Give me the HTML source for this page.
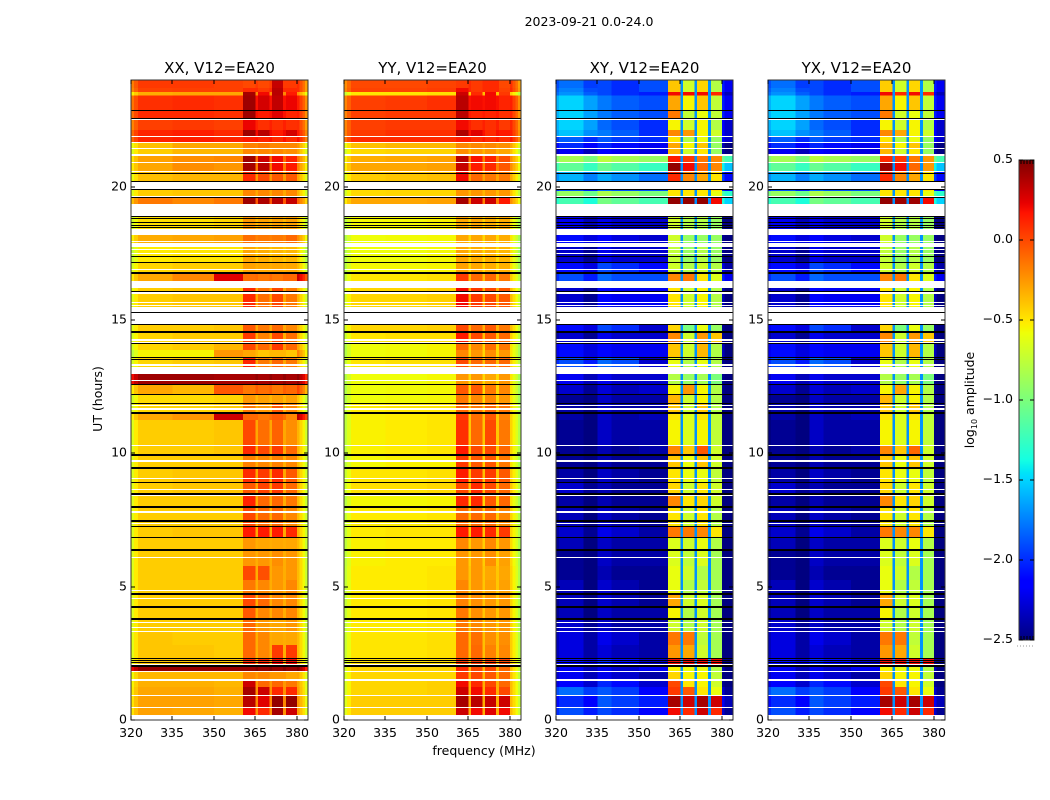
<!DOCTYPE html>
<html lang="en">
<head>
<meta charset="utf-8">
<title>2023-09-21 0.0-24.0</title>
<style>
html,body{margin:0;padding:0;background:#fff;}
svg{display:block;}
text{font-family:"DejaVu Sans","Liberation Sans",sans-serif;fill:#000;}
.tick{font-size:12.5px;}
.title{font-size:15px;}
.lab{font-size:12.5px;}
</style>
</head>
<body>
<svg id="chart" xmlns="http://www.w3.org/2000/svg" width="1050" height="800" viewBox="0 0 1050 800">
  <rect x="0" y="0" width="1050" height="800" fill="#fff"/>
  <text x="589" y="26" text-anchor="middle" class="lab">2023-09-21 0.0-24.0</text>
  <text x="484" y="755" text-anchor="middle" class="lab">frequency (MHz)</text>
  <text transform="translate(102,399) rotate(-90)" text-anchor="middle" class="lab">UT (hours)</text>
  <text transform="translate(974,400) rotate(-90)" text-anchor="middle" class="lab">log<tspan font-size="8" dy="3">10</tspan><tspan dy="-3"> amplitude</tspan></text>
</svg>
<script>
// ---- axis data ----
const freqTicks = [320, 335, 350, 365, 380];
const hourTicks = [0, 5, 10, 15, 20];
const colorTicks = [-2.5, -2.0, -1.5, -1.0, -0.5, 0.0, 0.5];
const colorTickLabels = ['\u22122.5', '\u22122.0', '\u22121.5', '\u22121.0', '\u22120.5', '0.0', '0.5'];
const panelNames = ['XX', 'YY', 'XY', 'YX'];
const panelTitles = ['XX, V12=EA20', 'YY, V12=EA20', 'XY, V12=EA20', 'YX, V12=EA20'];

// ---- time rows (UT hours, top to bottom) ----
const rowEdges = [24.00,23.70,23.55,23.42,22.88,22.50,22.13,21.86,21.64,21.41,21.15,20.89,20.55,20.18,19.84,19.61,19.35,18.90,18.41,18.19,17.74,17.18,16.76,16.46,16.20,15.49,14.85,14.55,14.14,13.88,13.61,13.24,12.98,12.60,12.23,11.89,11.51,11.25,10.31,9.94,9.45,8.93,8.48,7.99,7.28,6.86,6.38,5.78,5.25,4.73,4.24,3.79,3.30,2.81,2.33,2.06,1.80,1.50,1.24,0.90,0.49,0];

// ---- frequency bands (MHz) ----
const bandEdges = [320,321,322.5,330,335,340,350,360.5,365,366,370,371,375,376,380,381,382,383,384];
// column in a row: 0 low, 1 mid, 2 high background, 3-6 the four sub-bands; -1 = fixed level
const bandSource = [0,0,0,0,1,1,2,3,-1,4,-1,5,-1,6,2,2,2,2];
const parallelOffset = [-0.22,-0.1,0,0,0,0,0,0,-0.33,0,-0.33,0,-0.33,0,0.06,-0.05,-0.15,-0.3];
const crossOffset = [-0.1,0,0,-0.15,0.08,0,0,0,-1.7,0,-1.7,0,-1.7,0,-0.15,-0.3,-0.3,-0.3];

// ---- log10 amplitude per row: [low, mid, high background, sub-band 1..4] ----
const xxLevels = [
[.05,.05,.03,0,0,.32,.05],[.02,.03,.03,.1,.05,.35,.1],[-.32,-.3,-.3,.4,.2,.35,.15],[.08,.1,.08,.42,.28,.33,.22],[.1,.1,.08,.42,.15,.25,.12],
[.03,.05,.03,.22,.08,.08,.08],[.12,.14,.1,.42,.35,.15,.28],[.12,.14,.12,.15,.12,.1,.1],[-.38,-.3,-.3,-.18,-.15,-.2,-.2],[-.42,-.35,-.35,-.2,-.2,-.2,-.22],
[-.28,-.22,-.2,.42,.3,.2,.12],[-.3,-.22,-.25,.4,.35,.2,.15],[-.38,-.35,-.35,.1,0,-.05,-.05],[-.42,-.4,-.4,-.2,-.2,-.2,-.2],[-.42,-.4,-.4,-.2,-.2,-.2,-.2],
[-.15,-.2,-.15,.42,.38,.35,.32],[-.4,-.4,-.4,-.2,-.2,-.2,-.2],[-.48,-.48,-.45,-.25,-.28,-.28,-.28],[-.48,-.48,-.45,-.25,-.28,-.28,-.28],[-.32,-.3,-.28,-.12,-.15,-.15,-.1],
[-.52,-.5,-.5,-.3,-.32,-.35,-.35],[-.45,-.42,-.42,-.28,-.3,-.3,-.3],[-.3,-.2,.25,-.12,-.15,-.15,-.1],[-.4,-.4,-.4,-.2,-.2,-.2,-.2],[-.42,-.4,-.4,.1,-.12,0,-.15],
[-.42,-.4,-.4,-.1,-.15,-.1,-.2],[-.42,-.42,-.4,-.05,-.15,-.1,-.2],[-.45,-.42,-.42,.05,-.18,0,-.12],[-.45,-.42,-.35,0,-.1,.05,-.1],[-.55,-.55,-.25,-.3,-.4,-.35,-.4],
[-.45,-.42,-.4,.12,-.15,-.1,-.15],[-.4,-.4,-.4,0,0,0,0],[.42,.42,.4,.4,.4,.4,.4],[-.3,-.35,-.05,-.15,-.12,-.15,-.1],[-.47,-.47,-.45,-.25,-.28,-.28,-.28],
[-.45,-.45,-.42,-.15,-.25,-.05,-.2],[-.3,-.25,.3,-.1,-.15,-.05,-.2],[-.42,-.42,-.4,0,-.12,-.08,-.22],[-.42,-.42,-.4,.1,0,.05,-.1],[-.42,-.42,-.42,-.18,-.2,-.18,-.2],
[-.42,-.4,-.4,.1,.05,.1,-.05],[-.42,-.4,-.4,-.05,.02,.05,-.1],[-.42,-.42,-.42,.12,-.1,-.1,-.15],[-.42,-.42,-.42,0,-.1,-.1,-.2],[-.42,-.4,-.4,.15,.15,.15,.1],
[-.42,-.42,-.42,-.25,-.3,-.3,-.3],[-.42,-.42,-.42,-.25,-.25,-.22,-.25],[-.42,-.42,-.42,0,-.02,-.25,-.25],[-.42,-.42,-.42,-.15,-.2,-.25,-.2],[-.42,-.42,-.42,0,-.1,-.2,-.2],
[-.42,-.42,-.42,-.05,-.2,-.2,-.2],[-.42,-.42,-.42,-.1,-.25,-.3,-.25],[-.4,-.42,-.42,-.1,-.2,-.3,-.3],[-.4,-.4,-.42,-.1,-.2,.05,.05],[-.4,-.4,-.4,.1,.1,.2,.2],
[.45,.45,.45,.45,.45,.45,.45],[-.35,-.35,-.35,-.2,-.2,-.25,-.3],[-.33,-.33,-.35,.3,-.1,-.1,-.15],[-.3,-.3,-.33,.4,.3,.1,.1],[-.28,-.28,-.3,.35,.25,.45,.45],
[-.28,-.3,-.33,.2,.1,.4,.3]];

const yyLevels = [
[0,0,.02,.05,.05,.1,0],[.02,.02,.04,.2,.05,.1,.02],[-.5,-.5,-.48,.3,.1,.2,.05],[.03,.05,.08,.35,.2,.2,.12],[.03,.05,.05,.35,.12,.12,.08],
[.03,.05,.05,.2,.08,.08,.05],[.05,.08,.08,.38,.25,.1,.15],[.1,.1,.1,.15,.1,.1,.08],[-.38,-.35,-.35,-.2,-.2,-.2,-.22],[-.46,-.44,-.44,-.22,-.25,-.25,-.3],
[-.32,-.3,-.28,.35,.18,.12,-.02],[-.3,-.3,-.28,.32,.15,.1,-.05],[-.42,-.4,-.38,.2,-.1,-.15,-.15],[-.46,-.45,-.45,-.25,-.25,-.25,-.25],[-.46,-.45,-.45,-.25,-.25,-.25,-.25],
[-.3,-.3,-.28,.4,.3,.3,.15],[-.5,-.5,-.5,-.3,-.3,-.3,-.3],[-.56,-.56,-.54,-.3,-.3,-.32,-.32],[-.56,-.56,-.54,-.3,-.3,-.32,-.32],[-.58,-.57,-.56,-.3,-.3,-.3,-.32],
[-.58,-.58,-.56,-.3,-.32,-.33,-.35],[-.56,-.56,-.55,-.28,-.3,-.32,-.33],[-.5,-.5,-.48,.05,-.1,-.1,-.15],[-.5,-.5,-.5,-.2,-.2,-.2,-.2],[-.45,-.45,-.43,.2,.05,0,-.05],
[-.45,-.45,-.45,0,0,0,0],[-.45,-.45,-.43,0,-.1,-.05,-.15],[-.5,-.48,-.48,.15,0,-.05,-.1],[-.58,-.57,-.55,-.1,-.2,-.12,-.15],[-.58,-.57,-.55,-.2,-.25,-.22,-.25],
[-.5,-.48,-.48,0,-.1,-.1,-.1],[-.5,-.5,-.5,-.2,-.2,-.2,-.2],[-.58,-.58,-.56,-.25,-.25,-.3,-.25],[-.58,-.57,-.56,-.05,-.05,-.15,-.2],[-.58,-.57,-.56,-.15,-.2,-.2,-.25],
[-.52,-.5,-.5,-.1,-.15,-.1,-.15],[-.54,-.52,-.5,.05,-.12,-.05,-.18],[-.54,-.52,-.5,.08,-.1,0,-.15],[-.54,-.52,-.5,.15,0,0,-.1],[-.56,-.54,-.54,.05,-.05,-.05,-.15],
[-.5,-.5,-.48,.15,.05,.05,-.05],[-.48,-.48,-.46,0,.1,0,-.1],[-.56,-.56,-.55,.1,.1,-.05,-.1],[-.52,-.52,-.5,-.1,-.1,-.1,-.2],[-.52,-.5,-.5,.15,.15,.1,.05],
[-.54,-.52,-.52,-.2,-.25,-.2,-.25],[-.54,-.52,-.52,-.25,-.25,-.22,-.28],[-.52,-.52,-.5,-.25,-.25,-.3,-.3],[-.52,-.52,-.5,-.2,-.25,-.28,-.28],[-.52,-.52,-.5,-.18,-.22,-.25,-.25],
[-.52,-.52,-.5,-.15,-.22,-.25,-.25],[-.52,-.52,-.5,-.15,-.2,-.25,-.25],[-.5,-.5,-.48,-.1,-.12,-.22,-.22],[-.5,-.5,-.48,-.1,-.1,-.18,-.2],[-.48,-.48,-.46,.05,.05,.05,0],
[-.45,-.45,-.45,.1,0,0,-.1],[-.45,-.45,-.45,.05,0,-.05,-.1],[-.45,-.45,-.43,.2,.1,0,-.1],[-.45,-.45,-.43,.3,.2,.1,0],[-.42,-.42,-.42,.4,.35,.32,.3],
[-.42,-.42,-.42,.3,.2,.25,.2]];

const xyLevels = [
[-1.8,-2,-1.9,-.4,-.7,-.45,-.8],[-1.75,-2,-1.9,-.4,-.7,-.45,-.8],[-1.7,-2,-2.05,.2,.2,.2,.1],[-1.5,-1.85,-1.9,-.3,-.55,-.4,-.75],[-1.5,-1.85,-1.9,-.15,-.75,-.6,-.75],
[-1.5,-1.9,-2,-.55,-.7,-.55,-.8],[-1.55,-1.85,-2,-.2,-.25,-.55,-.7],[-1.85,-1.95,-2,-.5,-.8,-.6,-.9],[-2,-2.1,-2.2,-.3,-.55,-.4,-.9],[-2.2,-2.2,-2.25,-.35,-.7,-.5,-.9],
[-.85,-.85,-.9,.15,.05,-.15,-.2],[-1.1,-1.15,-1.25,.45,.2,-.1,-.2],[-1.6,-1.7,-1.8,.1,-.2,-.3,-.5],[-1.9,-1.9,-1.9,-.5,-.5,-.5,-.5],[-.9,-.9,-1,-.5,-.5,-.5,-.6],
[-1.2,-1.1,-1.2,.45,.45,.45,.2],[-2.2,-2.2,-2.2,-.7,-.8,-.8,-.9],[-2.2,-2.3,-2.3,-.7,-.8,-.8,-.9],[-2.2,-2.3,-2.3,-.7,-.8,-.8,-.9],[-2.1,-2.25,-2.3,-.7,-.9,-.9,-.9],
[-2.3,-2.3,-2.3,-.75,-.9,-.8,-.9],[-2.1,-2,-2.1,-.7,-.8,-.7,-.8],[-1.9,-1.9,-1.9,-.2,-.15,-.5,-.65],[-2.2,-2.2,-2.2,-.6,-.7,-.6,-.8],[-2.3,-2.2,-2.2,-.5,-.7,-.55,-.8],
[-2.2,-2.2,-2.2,-.6,-.7,-.6,-.8],[-2.1,-2,-2.3,-.45,-1,-.6,-.9],[-2.3,-2.3,-2.3,-.2,-.7,-.25,-.4],[-2.1,-2.2,-2.2,-.4,-.7,-.35,-.8],[-2.1,-2.2,-2.2,-.4,-.7,-.35,-.8],
[-1.9,-1.9,-2.3,-.6,-.8,-.6,-.8],[-2.2,-2.2,-2.2,-.7,-.8,-.7,-.8],[-2.2,-2.3,-2.3,-.8,-.9,-.85,-1],[-2.3,-2.35,-2.3,-.55,-.25,-.55,-.8],[-2.45,-2.4,-2.4,-.35,-.7,-.55,-.8],
[-2.4,-2.4,-2.4,-.4,-.7,-.4,-.8],[-2.4,-2.4,-2.35,-.5,-.65,-.5,-.75],[-2.45,-2.4,-2.4,-.55,-.65,-.55,-.75],[-2.45,-2.45,-2.4,-.2,-.4,-.05,-.7],[-2.45,-2.45,-2.45,-.4,-.6,-.4,-.7],
[-2.4,-2.4,-2.45,-.5,-.6,-.6,-.75],[-2.3,-2.45,-2.45,-.45,-.7,-.5,-.7],[-2.4,-2.45,-2.45,-.2,-.5,-.45,-.7],[-2.35,-2.4,-2.45,-.5,-.7,-.5,-.8],[-2.3,-2.3,-2.4,-.15,-.15,-.2,-.5],
[-2.35,-2.4,-2.4,-.65,-.7,-.6,-.8],[-2.45,-2.4,-2.4,-.65,-.75,-.65,-.85],[-2.45,-2.45,-2.45,-.6,-.7,-.8,-.85],[-2.35,-2.38,-2.45,-.6,-.8,-.75,-.85],[-2.35,-2.38,-2.45,-.3,-.7,-.65,-.85],
[-2.35,-2.4,-2.4,-.55,-.8,-.7,-.85],[-2.3,-2.4,-2.4,-.7,-.8,-.7,-.85],[-2.25,-2.3,-2.4,-.15,-.15,-.75,-.85],[-2.25,-2.35,-2.4,-.25,-.3,-.7,-.85],[-2.1,-2.1,-2.3,.2,.2,.2,.2],
[-2.2,-2.3,-2.2,-.55,-.6,-.6,-.8],[-2.2,-2.3,-2.4,-.45,-.55,-.55,-.75],[-2.15,-2.1,-2.3,0,-.5,-.55,-.7],[-1.8,-1.95,-2.15,.05,-.05,-.5,-.6],[-2,-1.95,-2.05,.4,.3,.4,.3],
[-1.9,-2,-2.15,.2,.1,.3,.1]];

const yxLevels = [
[-1.8,-2,-1.9,-.42,-.7,-.45,-.8],[-1.75,-2,-1.9,-.42,-.7,-.45,-.8],[-1.7,-2,-2.05,.2,.1,.2,.1],[-1.5,-1.85,-1.9,-.3,-.55,-.4,-.75],[-1.5,-1.85,-1.9,-.15,-.7,-.6,-.75],
[-1.5,-1.9,-2,-.55,-.7,-.55,-.8],[-1.55,-1.85,-2,-.2,-.3,-.55,-.7],[-1.85,-1.95,-2,-.5,-.8,-.6,-.9],[-2,-2.1,-2.2,-.35,-.55,-.4,-.9],[-2.2,-2.2,-2.25,-.35,-.7,-.5,-.9],
[-.85,-.85,-.9,.1,.05,-.15,-.25],[-1.1,-1.15,-1.25,.42,.2,-.1,-.25],[-1.6,-1.7,-1.8,.1,-.2,-.3,-.5],[-1.9,-1.9,-1.9,-.5,-.5,-.5,-.5],[-.9,-.9,-1,-.5,-.5,-.5,-.6],
[-1.2,-1.1,-1.2,.45,.42,.42,.2],[-2.2,-2.2,-2.2,-.7,-.8,-.8,-.9],[-2.2,-2.3,-2.3,-.7,-.8,-.8,-.9],[-2.2,-2.3,-2.3,-.7,-.8,-.8,-.9],[-2.1,-2.25,-2.3,-.7,-.9,-.9,-.9],
[-2.3,-2.3,-2.3,-.75,-.9,-.8,-.9],[-2.1,-2,-2.1,-.7,-.8,-.7,-.8],[-1.9,-1.9,-1.9,-.2,-.15,-.5,-.65],[-2.2,-2.2,-2.2,-.6,-.7,-.6,-.8],[-2.3,-2.2,-2.2,-.5,-.7,-.55,-.8],
[-2.2,-2.2,-2.2,-.6,-.7,-.6,-.8],[-2.1,-2,-2.3,-.45,-1,-.6,-.9],[-2.3,-2.3,-2.3,-.2,-.7,-.25,-.4],[-2.1,-2.2,-2.2,-.4,-.7,-.35,-.8],[-2.1,-2.2,-2.2,-.4,-.7,-.35,-.8],
[-1.9,-1.9,-2.3,-.6,-.8,-.6,-.8],[-2.2,-2.2,-2.2,-.7,-.8,-.7,-.8],[-2.2,-2.3,-2.3,-.8,-.9,-.85,-1],[-2.3,-2.35,-2.3,-.55,-.3,-.55,-.8],[-2.45,-2.4,-2.4,-.35,-.7,-.55,-.8],
[-2.4,-2.4,-2.4,-.4,-.7,-.4,-.8],[-2.4,-2.4,-2.35,-.5,-.65,-.5,-.75],[-2.45,-2.4,-2.4,-.55,-.65,-.55,-.75],[-2.45,-2.45,-2.4,-.2,-.4,-.1,-.7],[-2.45,-2.45,-2.45,-.4,-.6,-.4,-.7],
[-2.4,-2.4,-2.45,-.5,-.6,-.6,-.75],[-2.3,-2.45,-2.45,-.45,-.7,-.5,-.7],[-2.4,-2.45,-2.45,-.2,-.5,-.45,-.7],[-2.35,-2.4,-2.45,-.5,-.7,-.5,-.8],[-2.3,-2.3,-2.4,-.15,-.2,-.2,-.5],
[-2.35,-2.4,-2.4,-.65,-.7,-.6,-.8],[-2.45,-2.4,-2.4,-.65,-.75,-.65,-.85],[-2.45,-2.45,-2.45,-.6,-.7,-.8,-.85],[-2.35,-2.38,-2.45,-.6,-.8,-.75,-.85],[-2.35,-2.38,-2.45,-.3,-.7,-.65,-.85],
[-2.35,-2.4,-2.4,-.55,-.8,-.7,-.85],[-2.3,-2.4,-2.4,-.7,-.8,-.7,-.85],[-2.25,-2.3,-2.4,-.15,-.15,-.75,-.85],[-2.25,-2.35,-2.4,-.25,-.3,-.7,-.85],[-2.1,-2.1,-2.3,.2,.2,.2,.2],
[-2.2,-2.3,-2.2,-.55,-.6,-.6,-.8],[-2.2,-2.3,-2.4,-.45,-.55,-.55,-.75],[-2.15,-2.1,-2.3,0,-.5,-.55,-.7],[-1.8,-1.95,-2.15,.05,-.05,-.5,-.6],[-2,-1.95,-2.05,.4,.3,.4,.3],
[-1.9,-2,-2.15,.2,.1,.3,.1]];

// ---- time intervals with no data (UT hours: start, end) ----
const flaggedHours = [
[22.5,22.56],[21.86,21.9],[21.64,21.68],[21.41,21.45],[21.13,21.22],[20.89,20.93],[20.55,20.59],[19.88,20.18],[19.61,19.65],[18.9,19.35],
[18.19,18.41],[17.92,17.96],[17.74,17.9],[17.62,17.66],[17.49,17.53],[17.14,17.18],[16.87,16.9],[16.2,16.46],[15.99,16.05],[15.64,15.68],
[15.52,15.56],[15.3,15.49],[14.85,15.26],[14.2,14.29],[14.14,14.18],[13.27,13.35],[12.99,13.25],[12.71,12.75],[11.79,11.81],[11.62,11.71],
[10.29,10.33],[9.66,9.75],[9.03,9.08],[8.63,8.66],[8.4,8.44],[7.78,7.84],[7.36,7.39],[7.22,7.26],[6.81,6.85],[6.34,6.38],
[6.06,6.1],[4.84,4.88],[4.54,4.58],[3.64,3.68],[3.44,3.48],[3.3,3.34],[2.06,2.1],[1.78,1.82],[1.46,1.52],[0.88,0.92],[0.45,0.49],[0,0.18]];

// ---- time intervals drawn solid black (UT hours: start, end) ----
const blackHours = [
[22.85,22.88],[22.56,22.59],[20.5,20.53],[20.2,20.23],[19.87,19.9],[19.6,19.63],[18.88,18.91],[18.8,18.83],[18.63,18.66],[18.54,18.57],
[18.47,18.5],[17.38,17.41],[17.15,17.18],[16.78,16.81],[16.72,16.75],[16.04,16.07],[15.28,15.31],[14.83,14.86],[14.5,14.58],[14.1,14.13],
[13.58,13.61],[13.52,13.55],[12.57,12.6],[12.2,12.23],[11.86,11.89],[11.47,11.55],[9.91,9.99],[9.41,9.49],[8.91,8.94],[8.45,8.53],
[7.94,8.02],[7.48,7.51],[7.43,7.46],[7.26,7.29],[6.84,6.87],[6.34,6.42],[4.69,4.77],[4.21,4.29],[3.75,3.83],[2.31,2.34],
[2.23,2.26],[2.16,2.19],[2.0,2.08]];

// ---- panel geometry and scale functions ----
const svgNS = 'http://www.w3.org/2000/svg';
const chart = document.getElementById('chart');
const panelLeft = [131, 344, 556, 768];
const panelWidth = 177, plotTop = 80, plotBottom = 720;
const freqMin = 320, freqMax = 384, hourMax = 24;
const levelsByPanel = [xxLevels, yyLevels, xyLevels, yxLevels];
const offsetsByPanel = [parallelOffset, parallelOffset, crossOffset, crossOffset];
const vMin = -2.5, vMax = 0.5;
const cbLeft = 1019, cbRight = 1034, cbTop = 160, cbBottom = 640;

function xScale(left, f) { return left + (f - freqMin) / (freqMax - freqMin) * panelWidth; }
function yScale(h) { return plotBottom - h / hourMax * (plotBottom - plotTop); }
function cbScale(v) { return cbBottom - (v - vMin) / (vMax - vMin) * (cbBottom - cbTop); }
function lerpStops(stops, t) {
  for (let i = 1; i < stops.length; i++) {
    if (t <= stops[i][0]) {
      const a = stops[i - 1], b = stops[i];
      return a[1] + (b[1] - a[1]) * (t - a[0]) / (b[0] - a[0]);
    }
  }
  return stops[stops.length - 1][1];
}
const jetR = [[0,0],[0.35,0],[0.66,1],[0.89,1],[1,0.5]];
const jetG = [[0,0],[0.125,0],[0.375,1],[0.64,1],[0.91,0],[1,0]];
const jetB = [[0,0.5],[0.11,1],[0.34,1],[0.65,0],[1,0]];
function jet(v) {
  const t = Math.max(0, Math.min(1, (v - vMin) / (vMax - vMin)));
  return 'rgb(' + [jetR, jetG, jetB].map(function (s) { return Math.round(lerpStops(s, t) * 255); }).join(',') + ')';
}
function mk(tag, attrs, parent) {
  const el = document.createElementNS(svgNS, tag);
  for (const k in attrs) el.setAttribute(k, attrs[k]);
  parent.appendChild(el);
  return el;
}

panelNames.forEach(function (name, p) {
  const left = panelLeft[p], right = left + panelWidth;
  const g = mk('g', {}, chart);
  
  
  g.setAttribute('shape-rendering', 'crispEdges');

  // heatmap cells
  levelsByPanel[p].forEach(function (row, r) {
    const y0 = yScale(rowEdges[r]), y1 = yScale(rowEdges[r + 1]);
    bandSource.forEach(function (src, b) {
      const off = offsetsByPanel[p][b];
      let val;
      if (src >= 0) val = row[src] + off;
      else if (p < 2) val = Math.min(row[4], row[2] + 0.05) + 0.05;
      else val = off;
      const x0 = xScale(left, bandEdges[b]), x1 = xScale(left, bandEdges[b + 1]);
      const c = mk('rect', { x: x0, y: y0, width: x1 - x0, height: y1 - y0, fill: jet(val) }, g);
      
      
    });
  });

  // flagged white intervals
  flaggedHours.forEach(function (iv) {
    const yA = Math.round(yScale(iv[1])), h = Math.max(1, Math.round(yScale(iv[0]) - yScale(iv[1])));
    const f = mk('rect', { x: left, y: yA, width: panelWidth, height: h, fill: '#fff' }, g);
    
    
  });
  // black intervals
  blackHours.forEach(function (iv) {
    const yA = Math.round(yScale(iv[1])), h = Math.max(1, Math.round(yScale(iv[0]) - yScale(iv[1])));
    const f = mk('rect', { x: left, y: yA, width: panelWidth, height: h, fill: '#000' }, g);
    
    
  });

  // frame
  const fr = mk('rect', { x: left, y: plotTop, width: panelWidth, height: plotBottom - plotTop, fill: 'none', stroke: '#333', 'stroke-width': 1 }, g);
  
  

  // x ticks
  freqTicks.forEach(function (f) {
    const x = Math.round(xScale(left, f));
    const t1 = mk('line', { x1: x, x2: x, y1: plotBottom, y2: plotBottom - 4, stroke: '#000' }, g);
    
    
    const t2 = mk('line', { x1: x, x2: x, y1: plotTop, y2: plotTop + 4, stroke: '#000' }, g);
    
    
    const lb = mk('text', { x: x, y: 737, 'text-anchor': 'middle', class: 'tick' }, chart);
    lb.textContent = f;
    
    
  });
  // y ticks
  hourTicks.forEach(function (h) {
    const y = Math.round(yScale(h));
    const t1 = mk('line', { x1: left, x2: left + 4, y1: y, y2: y, stroke: '#000' }, g);
    
    
    const t2 = mk('line', { x1: right, x2: right - 4, y1: y, y2: y, stroke: '#000' }, g);
    
    
    const lb = mk('text', { x: left - 4, y: y + 3.5, 'text-anchor': 'end', class: 'tick' }, chart);
    lb.textContent = h;
    
    
  });

  // title
  const tt = mk('text', { x: left + panelWidth / 2, y: 73, 'text-anchor': 'middle', class: 'title' }, chart);
  tt.textContent = panelTitles[p];
  
  
});

// colour bar
const cb = mk('g', { 'shape-rendering': 'crispEdges' }, chart);


for (let y = cbTop; y < cbBottom; y++) {
  const v = vMin + (cbBottom - y - 0.5) / (cbBottom - cbTop) * (vMax - vMin);
  const s = mk('rect', { x: cbLeft, y: y, width: cbRight - cbLeft, height: 1, fill: jet(v) }, cb);
  
  
}
const cbf = mk('rect', { x: cbLeft, y: cbTop, width: cbRight - cbLeft, height: cbBottom - cbTop, fill: 'none', stroke: '#333', 'stroke-width': 1 }, cb);


colorTicks.forEach(function (v, i) {
  const y = Math.round(cbScale(v));
  const a = mk('line', { x1: cbLeft, x2: cbLeft + 4, y1: y, y2: y, stroke: '#000' }, cb);
  
  
  const b = mk('line', { x1: cbRight, x2: cbRight - 4, y1: y, y2: y, stroke: '#000' }, cb);
  
  
  const lb = mk('text', { x: 1013, y: y + 3, 'text-anchor': 'end', class: 'tick' }, chart);
  lb.textContent = colorTickLabels[i];
  
  
});
[1021, 1024, 1027, 1030, 1033].forEach(function (x) {
  const a = mk('line', { x1: x, x2: x, y1: cbTop, y2: cbTop + 4, stroke: '#000' }, cb);
  
  
  const b = mk('line', { x1: x, x2: x, y1: cbBottom, y2: cbBottom - 4, stroke: '#000' }, cb);
  
  
});
const dots = mk('line', { x1: 1017, x2: 1035, y1: 646, y2: 646, stroke: '#999', 'stroke-dasharray': '1 2' }, chart);


</script>
</body>
</html>
